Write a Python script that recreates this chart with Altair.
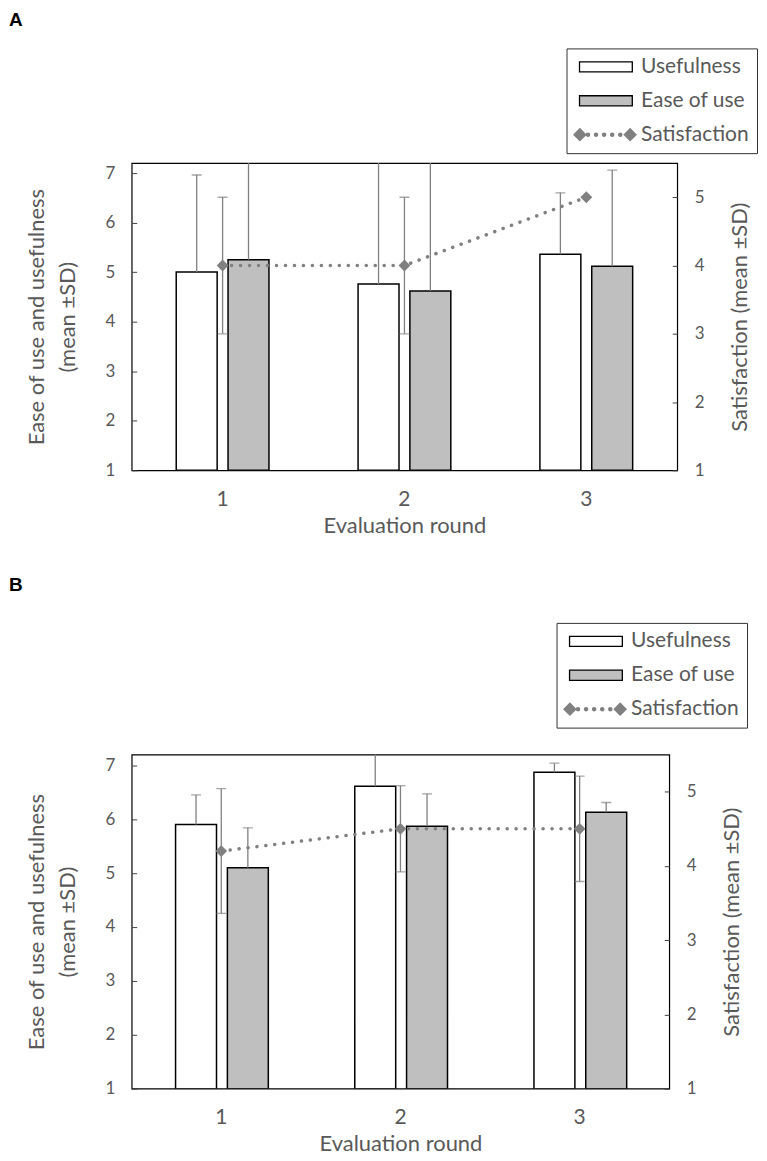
import altair as alt
import pandas as pd

FONT = "Lato"
TXT = "#595959"
ERR = "#808080"

rounds = ["1", "2", "3"]
bar_series = ["Usefulness", "Ease of use"]
legend_items = ["Usefulness", "Ease of use", "Satisfaction"]

# Panel A
useful_a = [5.0, 4.76, 5.36]
useful_sd_a = [1.96, 2.6, 1.24]
ease_a = [5.25, 4.62, 5.12]
ease_sd_a = [2.2, 2.7, 1.94]
sat_a = [4.0, 4.0, 5.0]
sat_sd_a = [1.0, 1.0, 0.0]

# Panel B
useful_b = [5.9, 6.61, 6.87]
useful_sd_b = [0.55, 0.7, 0.17]
ease_b = [5.1, 5.87, 6.13]
ease_sd_b = [0.74, 0.6, 0.18]
sat_b = [4.2, 4.5, 4.5]
sat_sd_b = [0.84, 0.58, 0.71]

left_ticks = [1, 2, 3, 4, 5, 6, 7]
right_ticks = [1, 2, 3, 4, 5]
left_domain = [1, 7.2]
right_domain = [1, 5.5]

# legend symbol shapes (style only)
RECT = "M-2.94,-0.56H2.94V0.56H-2.94Z"


def diamond(cx, r):
    return f"M{cx - r},0L{cx},{-r}L{cx + r},0L{cx},{r}Z"


def dot(cx, r):
    return f"M{cx - r},0A{r},{r},0,1,0,{cx + r},0A{r},{r},0,1,0,{cx - r},0Z"


SAT_SYM = diamond(-2.9, 0.66) + "".join(dot(c, 0.18) for c in [-2.0, -1.1, -0.2, 0.7, 1.6]) + diamond(2.7, 0.66)


def make_panel(label, useful, useful_sd, ease, ease_sd, sat, sat_sd, w, h, lx, ly, toff):
    bars_df = pd.DataFrame({
        "round": rounds * 2,
        "series": [bar_series[0]] * 3 + [bar_series[1]] * 3,
        "value": useful + ease,
        "sd": useful_sd + ease_sd,
    })
    bars_df["hi"] = bars_df["value"] + bars_df["sd"]
    sat_df = pd.DataFrame({
        "round": rounds,
        "series": ["Satisfaction"] * 3,
        "value": sat,
        "sd": sat_sd,
    })
    sat_df["lo"] = sat_df["value"] - sat_df["sd"]
    sat_df["hi"] = sat_df["value"] + sat_df["sd"]

    x = alt.X("round:N",
              scale=alt.Scale(domain=rounds, paddingInner=0.49, paddingOuter=0.245),
              axis=alt.Axis(title="Evaluation round", labelAngle=0, ticks=False, tickSize=0,
                            domain=False, labelPadding=18, titlePadding=6,
                            labelFontSize=21, titleFontSize=22))
    xo = alt.XOffset("series:N", scale=alt.Scale(domain=bar_series, paddingInner=0.21, paddingOuter=0))
    yl_scale = alt.Scale(domain=left_domain, nice=False, zero=False)
    yl_axis = alt.Axis(values=left_ticks, title=["Ease of use and usefulness", "(mean ±SD)"],
                       offset=-5, tickSize=5, domain=False, grid=False, labelPadding=17,
                       titlePadding=25.5, titleLineHeight=31)
    yr_scale = alt.Scale(domain=right_domain, nice=False, zero=False)
    yr_axis = alt.Axis(values=right_ticks, title="Satisfaction (mean ±SD)", orient="right",
                       offset=-5, tickSize=5, domain=False, grid=False, labelPadding=17,
                       titlePadding=26, titleAngle=270, titleBaseline="top")

    fill_scale = alt.Scale(domain=legend_items, range=["#ffffff", "#bfbfbf", ERR])
    stroke_scale = alt.Scale(domain=legend_items, range=["#000000", "#000000", ERR])
    shape_scale = alt.Scale(domain=legend_items, range=[RECT, RECT, SAT_SYM])
    leg = alt.Legend(title=None, orient="none", legendX=lx, legendY=ly,
                     strokeColor="#333333", fillColor="#ffffff", padding=8,
                     labelFont=FONT, labelFontSize=21, labelColor=TXT, labelLimit=300,
                     symbolSize=324, symbolOffset=21, labelOffset=24.7,
                     rowPadding=12, symbolStrokeWidth=1.3)

    base_b = alt.Chart(bars_df)
    bars = base_b.mark_bar(stroke="#000000", strokeWidth=1.5, clip=True).encode(
        x=x, xOffset=xo,
        y=alt.Y("value:Q", scale=yl_scale, axis=yl_axis),
        y2=alt.datum(1),
        fill=alt.condition("datum.series == 'Usefulness'", alt.value("#ffffff"), alt.value("#bfbfbf")),
    )
    bar_err = base_b.mark_rule(color=ERR, strokeWidth=1.3, clip=True).encode(
        x=x, xOffset=xo, y=alt.Y("value:Q", scale=yl_scale, axis=yl_axis), y2="hi:Q")
    bar_cap = base_b.mark_tick(color=ERR, thickness=1.3, size=10, orient="horizontal", clip=True).encode(
        x=x, xOffset=xo, y=alt.Y("hi:Q", scale=yl_scale, axis=yl_axis))
    left = alt.layer(bars, bar_err, bar_cap)

    base_s = alt.Chart(sat_df)
    ys = alt.Y("value:Q", scale=yr_scale, axis=yr_axis)
    sat_line = base_s.mark_line(color=ERR, strokeWidth=3.5, strokeDash=[0.1, 8.9], strokeCap="round").encode(
        x=x, y=ys)
    sat_err = base_s.mark_rule(color=ERR, strokeWidth=1.3, clip=True).encode(
        x=x, y=alt.Y("lo:Q", scale=yr_scale, axis=yr_axis), y2="hi:Q")
    sat_cap_lo = base_s.mark_tick(color=ERR, thickness=1.3, size=10, orient="horizontal", clip=True).encode(
        x=x, y=alt.Y("lo:Q", scale=yr_scale, axis=yr_axis))
    sat_cap_hi = base_s.mark_tick(color=ERR, thickness=1.3, size=10, orient="horizontal", clip=True).encode(
        x=x, y=alt.Y("hi:Q", scale=yr_scale, axis=yr_axis))
    sat_pts = base_s.mark_point(shape="diamond", filled=True, size=140, color=ERR, opacity=1).encode(
        x=x, y=ys)
    dummy = base_s.transform_filter("false").mark_point(filled=True, opacity=1).encode(
        x=x, y=ys,
        fill=alt.Fill("series:N", scale=fill_scale, legend=leg),
        stroke=alt.Stroke("series:N", scale=stroke_scale, legend=leg),
        shape=alt.Shape("series:N", scale=shape_scale, legend=leg),
    )
    right = alt.layer(sat_line, sat_err, sat_cap_lo, sat_cap_hi, sat_pts, dummy)

    return alt.layer(left, right).resolve_scale(y="independent").properties(
        width=w, height=h,
        title=alt.TitleParams(label, anchor="start", frame="group", dx=-123, font="Liberation Sans",
                              fontWeight="bold", fontSize=19, color="#000000", offset=toff),
    )


panel_a = make_panel("A", useful_a, useful_sd_a, ease_a, ease_sd_a, sat_a, sat_sd_a, 547, 308, 436, -115, 18)
panel_b = make_panel("B", useful_b, useful_sd_b, ease_b, ease_sd_b, sat_b, sat_sd_b, 539, 335, 426, -132, 27)

chart = alt.vconcat(panel_a, panel_b, spacing=38).resolve_scale(
    fill="independent", stroke="independent", shape="independent"
).resolve_legend(
    fill="independent", stroke="independent", shape="independent"
).configure_view(
    stroke="#000000", strokeWidth=1.2
).configure_axis(
    labelFont=FONT, titleFont=FONT, labelFontSize=17, titleFontSize=22,
    labelColor=TXT, titleColor=TXT, tickColor="#404040", titleFontWeight="normal"
).properties(
    padding={"left": 0, "top": 0, "right": 0, "bottom": 0}
)

chart.save("out.html", embed_options={"renderer": "svg", "actions": False})
